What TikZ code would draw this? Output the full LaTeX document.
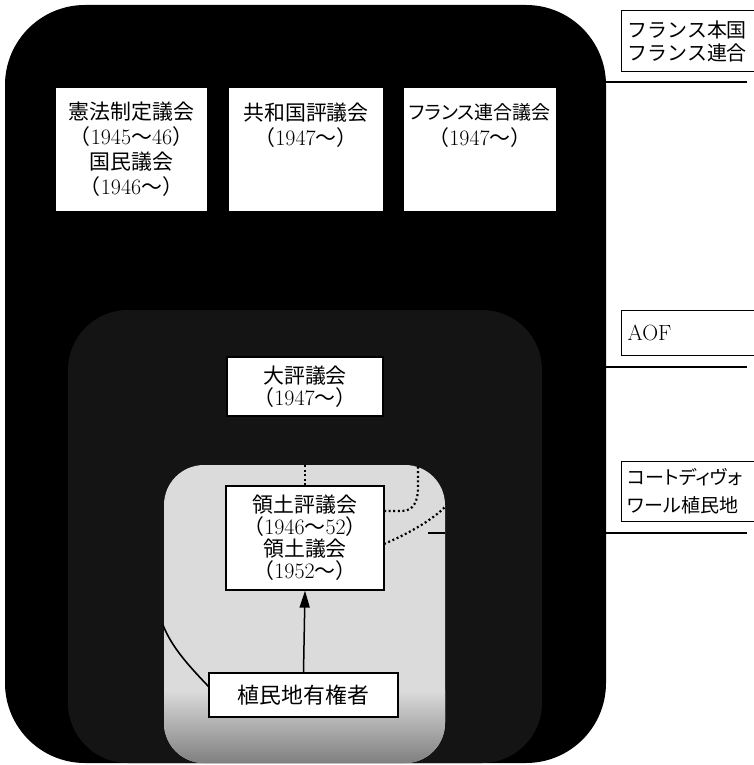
\documentclass[tikz,border=0pt]{standalone}
\usepackage{fontspec}
\newfontfamily\jp[Scale=0.95]{Noto Sans CJK JP}
\newfontfamily\jpp[Scale=0.95,RawFeature=+palt]{Noto Sans CJK JP}
\usetikzlibrary{arrows.meta}
\newcommand{\Jlp}{{\jp （}}
\newcommand{\Jrp}{{\jp ）}}
\newcommand{\Jwv}{{\jp ～}}
\tikzset{
  wbox/.style={draw=black, fill=white, line width=1.2pt, inner sep=0pt, align=center,
    font=\fontsize{22}{25}\selectfont},
  legbox/.style={draw=black, line width=1.2pt, anchor=north west, align=left, inner sep=0pt,
    text width=200pt, font=\fontsize{21}{23}\selectfont},
  legline/.style={line width=1.3pt},
  dotline/.style={line width=2.2pt, dash pattern=on 2pt off 2.6pt},
}
\begin{document}
\begin{tikzpicture}[x=1pt,y=-1pt]
\useasboundingbox (0,0) rectangle (754,765);
\clip (0,0) rectangle (754,765);
\fill[white] (0,0) rectangle (754,765);
% regions
\fill[black, rounded corners=80pt] (5,5) rectangle (606,763);
\fill[black!92, rounded corners=60pt] (68,310) rectangle (542,763);
\fill[black!14, rounded corners=40pt] (164,465) rectangle (445,763);
\begin{scope}
  \clip[rounded corners=40pt] (164,465) rectangle (445,763);
  \shade[top color=black!14, bottom color=black!50] (164,690) rectangle (445,763);
\end{scope}
% boxes
\node[wbox, minimum width=153pt, minimum height=125pt] (kenpo) at (131.5,149.5)
  {{\jp 憲法制定議会}\\\Jlp 1945\Jwv 46\Jrp\\{\jp 国民議会}\\\Jlp 1946\Jwv\Jrp};
\node[wbox, minimum width=156pt, minimum height=125pt] (kyowa) at (306,149.5)
  {{\jp 共和国評議会}\\\Jlp 1947\Jwv\Jrp\\~\\~};
\node[wbox, minimum width=154pt, minimum height=125pt] (rengo) at (480,149.5)
  {{\fontsize{20}{25}\selectfont\jpp フランス連合議会}\\\Jlp 1947\Jwv\Jrp\\~\\~};
\node[wbox, minimum width=156pt, minimum height=59pt, font=\fontsize{22}{22}\selectfont] (dai) at (305,386.5)
  {{\jp 大評議会}\\\Jlp 1947\Jwv\Jrp};
\node[wbox, minimum width=158pt, minimum height=104pt, font=\fontsize{22}{22}\selectfont] (ryodo) at (305,538)
  {{\jp 領土評議会}\\\Jlp 1946\Jwv 52\Jrp\\{\jp 領土議会}\\\Jlp 1952\Jwv\Jrp};
\node[wbox, minimum width=189pt, minimum height=44pt, font=\fontsize{23}{25}\selectfont] (yuken) at (303.5,695)
  {\jp 植民地有権者};
% connectors
\draw[line width=1.5pt, -{Triangle[length=17pt,width=10pt]}] (yuken.north) -- (ryodo.south);
\coordinate (d1) at (305,464);
\draw[dotline] (ryodo.north) -- (d1);
\coordinate (d2s) at (384,511);
\coordinate (d2e) at (418,466);
\draw[dotline] (d2s) -- (402,511) .. controls (414,511) and (418,500) .. (418,488) -- (d2e);
\coordinate (d3s) at (384,544);
\coordinate (d3e) at (445,507);
\draw[dotline] (d3s) .. controls (405,535) and (430,522) .. (d3e);
\coordinate (c1s) at (209,687);
\coordinate (c1e) at (163,625);
\draw[line width=1.6pt] (c1s) .. controls (190,667) and (172,648) .. (c1e);
\coordinate (s1) at (428,533);
\coordinate (s2) at (445,533);
\draw[line width=1.3pt] (s1) -- (s2);
% legend
\node[legbox, minimum height=61pt] (lg1) at (621,10)
  {\hspace*{6pt}\jp フランス本国\\\hspace*{6pt}\jp フランス連合};
\coordinate (l1a) at (605,82); \coordinate (l1b) at (747,82);
\draw[legline] (l1a) -- (l1b);
\node[legbox, minimum height=45pt, font=\fontsize{22}{23}\selectfont] (lg2) at (621,310) {\hspace*{6pt}AOF};
\coordinate (l2a) at (605,367); \coordinate (l2b) at (747,367);
\draw[legline] (l2a) -- (l2b);
\node[legbox, minimum height=60pt, font=\fontsize{20}{28}\selectfont] (lg3) at (621,461)
  {\hspace*{6pt}\jpp コートディヴォ\\\hspace*{6pt}\jpp ワール植民地};
\coordinate (l3a) at (605,533); \coordinate (l3b) at (747,533);
\draw[legline] (l3a) -- (l3b);
\end{tikzpicture}
\end{document}
